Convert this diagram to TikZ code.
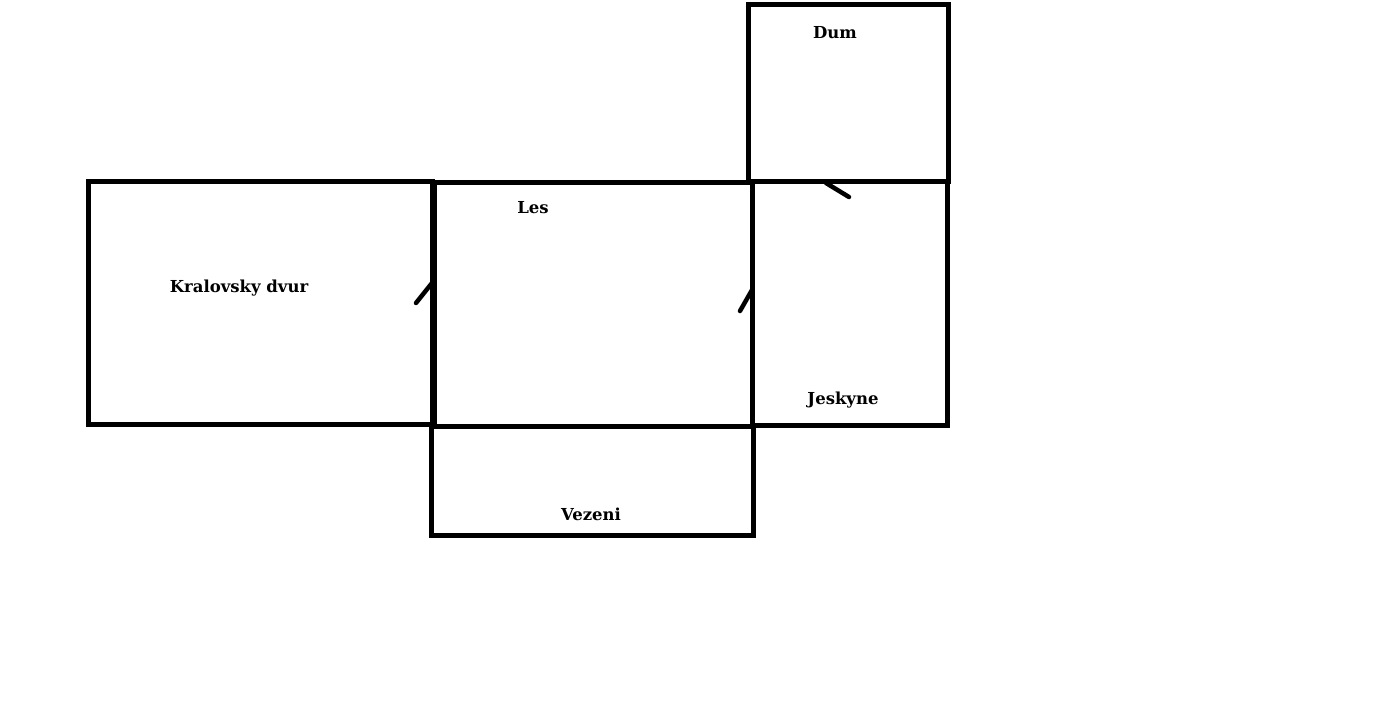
\documentclass[tikz,border=0pt]{standalone}
\usepackage{fontspec}
\setmainfont{DejaVu Serif}
\begin{document}
\begin{tikzpicture}[x=1pt,y=-1pt,
  wall/.style={line width=5pt,draw=black},
  door/.style={line width=4.5pt,line cap=round},
  lbl/.style={font=\bfseries\fontsize{16.5}{18}\selectfont,inner sep=0pt}]
\useasboundingbox[fill=white] (0,0) rectangle (1382,728);
\draw[wall] (88,181) rectangle (432,424);
\draw[wall] (434,182) rectangle (752,426);
\draw[wall] (431,426) rectangle (753,535);
\draw[wall] (752,181) rectangle (947,425);
\draw[wall] (748,4) rectangle (948,181);
\draw[door] (432,283) -- (416,303);
\draw[door] (752,290) -- (740,311);
\draw[door] (826,183) -- (849,197);
\node[lbl] (dum) at (835,33) {Dum};
\node[lbl] (les) at (533,208) {Les};
\node[lbl] (kd) at (239,288) {Kralovsky dvur};
\node[lbl] (jes) at (843,400) {Jeskyne};
\node[lbl] (vez) at (591,514) {Vezeni};
\end{tikzpicture}
\end{document}
